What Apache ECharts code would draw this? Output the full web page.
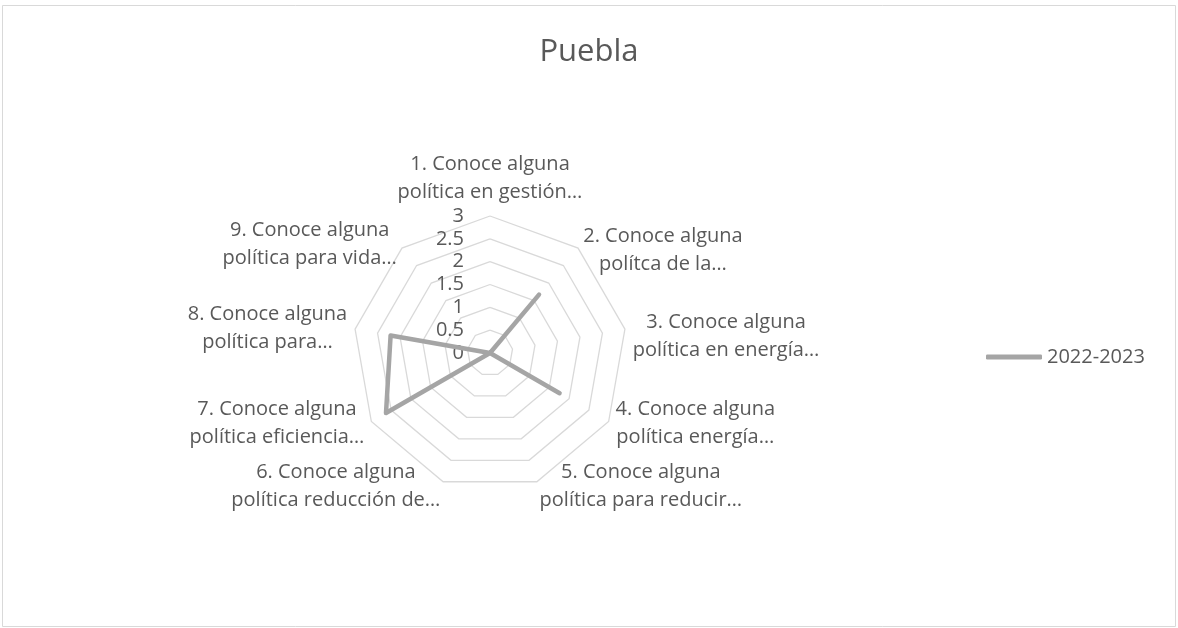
<!DOCTYPE html>
<html>
<head>
<meta charset="utf-8">
<script src="https://cdn.jsdelivr.net/npm/echarts@6/dist/echarts.min.js"></script>
<style>
  html, body { margin: 0; padding: 0; background: #fff; }
  #chart { width: 1178px; height: 628px; }
</style>
</head>
<body>
<div id="chart"></div>
<script>
// indicadores (texto tal como aparece en el gráfico)
const indicators = [
  "1. Conoce alguna\npolítica en gestión…",
  "2. Conoce alguna\npolítca de la…",
  "3. Conoce alguna\npolítica en energía…",
  "4. Conoce alguna\npolítica energía…",
  "5. Conoce alguna\npolítica para reducir…",
  "6. Conoce alguna\npolítica reducción de…",
  "7. Conoce alguna\npolítica eficiencia…",
  "8. Conoce alguna\npolítica para…",
  "9. Conoce alguna\npolítica para vida…"
];
const seriesName = "2022-2023";
const values2022 = [0, 1.67, 0, 1.76, 0, 0, 2.63, 2.21, 0];
const axisMax = 3;

// ajuste vertical de cada etiqueta (px, + = hacia abajo), estilo Excel
const nameShift = [0, 8, 8, -2, -3, -3, -2, 0, 2];

const FONT = "'Open Sans', 'Liberation Sans', sans-serif";
const TEXT = "#595959";

// ECharts recorre el radar en sentido antihorario; Excel en sentido horario
const order = indicators.map((_, i) => (indicators.length - i) % indicators.length);

const rich = {
  c: { align: "center", fontFamily: FONT, fontSize: 20, color: TEXT, lineHeight: 28 }
};
nameShift.forEach(s => {
  const h = Math.abs(s) * 2;
  if (h) rich["sp" + h] = { lineHeight: h, fontSize: 1 };
});

const chart = echarts.init(document.getElementById("chart"));

const option = {
  backgroundColor: "#fff",
  title: {
    text: "Puebla",
    left: "center",
    top: 32,
    textStyle: { fontFamily: FONT, fontSize: 31, fontWeight: "normal", color: TEXT }
  },
  legend: {
    data: [seriesName],
    left: 981,
    top: 340,
    icon: "roundRect",
    itemWidth: 56,
    itemHeight: 5,
    itemGap: 5,
    textStyle: { fontFamily: FONT, fontSize: 20, lineHeight: 24, color: TEXT }
  },
  graphic: [
    {
      type: "rect",
      shape: { x: 2.5, y: 5.5, width: 1173, height: 621 },
      style: { fill: "none", stroke: "#d9d9d9", lineWidth: 1 },
      silent: true
    }
  ],
  radar: {
    center: [490, 353],
    radius: 137,
    startAngle: 90,
    shape: "polygon",
    splitNumber: 6,
    indicator: order.map((k, i) => ({
      name: indicators[k],
      min: 0,
      max: axisMax,
      axisLabel: i === 0
        ? { show: true, margin: 26, fontFamily: FONT, fontSize: 20, color: TEXT, showMinLabel: true, showMaxLabel: true }
        : { show: false }
    })),
    nameGap: 8,
    axisName: {
      fontFamily: FONT,
      fontSize: 20,
      color: TEXT,
      lineHeight: 28,
      formatter: (name) => {
        const k = indicators.indexOf(name);
        const s = nameShift[k] || 0;
        let lines = name.split("\n").map(l => "{c|" + l + "}");
        if (s > 0) lines.unshift("{sp" + s * 2 + "| }");
        if (s < 0) lines.push("{sp" + (-s * 2) + "| }");
        return lines.join("\n");
      },
      rich: rich
    },
    axisLine: { show: false },
    axisTick: { show: false },
    axisLabel: { show: false },
    splitArea: { show: false },
    splitLine: { lineStyle: { color: "#d9d9d9", width: 1.3 } }
  },
  series: [
    {
      name: seriesName,
      type: "radar",
      symbol: "none",
      lineStyle: { color: "#a5a5a5", width: 4.5, cap: "round", join: "round" },
      itemStyle: { color: "#a5a5a5" },
      data: [{ value: order.map(k => values2022[k]), name: seriesName }]
    }
  ]
};

chart.setOption(option);
</script>
</body>
</html>
